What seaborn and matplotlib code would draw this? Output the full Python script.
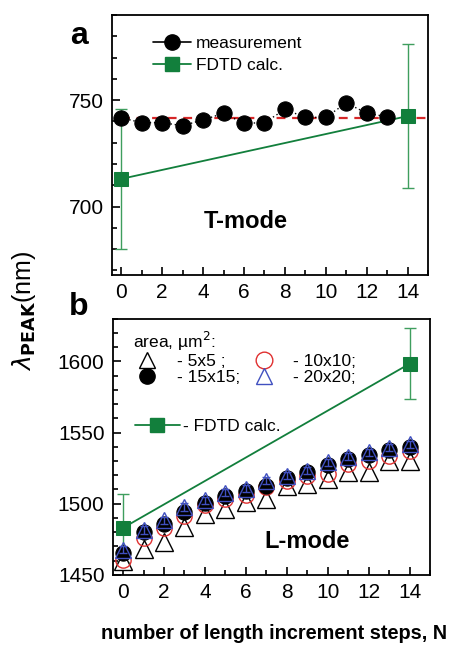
import numpy as np
import pandas as pd
import matplotlib
matplotlib.use("Agg")
import matplotlib.pyplot as plt
import seaborn as sns
from matplotlib.lines import Line2D
from matplotlib.ticker import MultipleLocator

sns.set_style("ticks")
plt.rcParams['font.family'] = ['Liberation Sans', 'DejaVu Sans']
plt.rcParams['mathtext.fontset'] = 'dejavusans'
plt.rcParams['text.color'] = 'black'
plt.rcParams['xtick.color'] = 'black'
plt.rcParams['ytick.color'] = 'black'
plt.rcParams['axes.edgecolor'] = 'black'

# ---- data ----
steps = np.arange(15)

# panel a: T-mode
t_meas = [741.7, 739.4, 739.4, 738.0, 740.7, 743.8, 739.1, 739.4, 745.6,
          741.9, 741.9, 748.7, 743.8, 742.2]
t_meas_err = [2.5] * 14
t_fit = 741.4
fdtd_x = [0, 14]
t_fdtd = [713, 742.5]
t_fdtd_err = [33, 34]

# panel b: L-mode, one series per pad area
l_5x5 = [1459.5, 1468.3, 1473.4, 1483.8, 1493.0, 1496.5, 1501.0, 1503.5,
         1512.7, 1513.9, 1517.4, 1522.4, 1522.4, 1530.0, 1530.0]
l_10x10 = [1460.6, 1475.7, 1482.6, 1491.4, 1498.8, 1503.5, 1505.8, 1511.6,
           1516.2, 1519.7, 1520.8, 1527.8, 1530.0, 1533.5, 1537.0]
l_15x15 = [1465.3, 1480.3, 1485.4, 1494.2, 1500.7, 1505.3, 1509.2, 1512.7,
           1517.8, 1522.4, 1527.0, 1531.7, 1534.0, 1537.7, 1540.0]
l_20x20 = [1467.6, 1481.5, 1488.4, 1497.7, 1502.3, 1507.6, 1510.4, 1516.2,
           1519.7, 1523.1, 1529.0, 1533.1, 1536.3, 1539.4, 1541.7]
l_err = [2.5] * 15
l_fdtd = [1483, 1598.4]
l_fdtd_err = [24, 25]

green = '#127f3c'
green_light = '#3f9e5e'

df_t = pd.DataFrame({'N': steps[:14], 'lam': t_meas})
df_tf = pd.DataFrame({'N': fdtd_x, 'lam': t_fdtd})
df_l = pd.DataFrame({'N': steps, '5x5': l_5x5, '10x10': l_10x10,
                     '15x15': l_15x15, '20x20': l_20x20})
df_lf = pd.DataFrame({'N': fdtd_x, 'lam': l_fdtd})

fig = plt.figure(figsize=(4.57, 6.48), dpi=100)
ax1 = fig.add_axes([0.245, 0.576, 0.692, 0.401])
ax2 = fig.add_axes([0.247, 0.113, 0.694, 0.395])

# ---- panel a ----
ax1.hlines(t_fit, 0, 15, colors='#d62728', linestyles=(0, (4, 3)), lw=1.6, zorder=2)
ax1.errorbar(fdtd_x, t_fdtd, yerr=t_fdtd_err, fmt='none', ecolor=green_light,
             elinewidth=1.0, capsize=4, capthick=1.0, zorder=1)
sns.lineplot(data=df_tf, x='N', y='lam', ax=ax1, color=green, lw=1.3,
             marker='s', markersize=10, markeredgecolor=green, zorder=3)
ax1.errorbar(df_t['N'], df_t['lam'], yerr=t_meas_err, fmt='none', ecolor='#333333',
             elinewidth=1.0, capsize=3, zorder=3)
sns.lineplot(data=df_t, x='N', y='lam', ax=ax1, color='black', lw=1.0,
             linestyle=(0, (1, 2)), marker='o', markersize=11,
             markeredgecolor='black', zorder=4)

h1 = [Line2D([], [], color='black', marker='o', ms=11, lw=1.2),
      Line2D([], [], color=green, marker='s', ms=10, lw=1.3)]
ax1.legend(h1, ['measurement', 'FDTD calc.'], loc='upper left',
           bbox_to_anchor=(0.08, 0.98), frameon=False, fontsize=12.5,
           handlelength=2.2, handletextpad=0.3, labelspacing=0.4)
ax1.text(6.1, 693, 'T-mode', fontsize=17, fontweight='bold', ha='center', va='center')

ax1.set_xlim(-0.45, 15)
ax1.set_ylim(668, 790)
ax1.set_yticks([700, 750])
ax1.yaxis.set_minor_locator(MultipleLocator(10))

# ---- panel b ----
ax2.errorbar(fdtd_x, l_fdtd, yerr=l_fdtd_err, fmt='none', ecolor=green_light,
             elinewidth=1.0, capsize=4, capthick=1.0, zorder=1)
sns.lineplot(data=df_lf, x='N', y='lam', ax=ax2, color=green, lw=1.3,
             marker='s', markersize=10, markeredgecolor=green, zorder=2)
sns.lineplot(data=df_l, x='N', y='5x5', ax=ax2, color='black', linestyle='',
             marker='^', markersize=13, markerfacecolor='white',
             markeredgecolor='black', markeredgewidth=1.0, zorder=3)
sns.lineplot(data=df_l, x='N', y='10x10', ax=ax2, color='#e03030', linestyle='',
             marker='o', markersize=11, markerfacecolor='none',
             markeredgecolor='#e03030', markeredgewidth=1.0, zorder=4)
ax2.errorbar(df_l['N'], df_l['15x15'], yerr=l_err, fmt='none', ecolor='black',
             elinewidth=1.0, capsize=3, zorder=4)
sns.lineplot(data=df_l, x='N', y='15x15', ax=ax2, color='black', linestyle='',
             marker='o', markersize=11, markeredgecolor='black', zorder=5)
ax2.errorbar(df_l['N'], df_l['20x20'], yerr=l_err, fmt='none', ecolor='#4050c0',
             elinewidth=1.0, capsize=3, zorder=5)
sns.lineplot(data=df_l, x='N', y='20x20', ax=ax2, color='#4050c0', linestyle='',
             marker='^', markersize=12, markerfacecolor='none',
             markeredgecolor='#4050c0', markeredgewidth=1.0, zorder=6)

h2 = [Line2D([], [], ls='', marker='^', ms=12, mfc='white', mec='black'),
      Line2D([], [], ls='', marker='o', ms=11, mfc='black', mec='black'),
      Line2D([], [], ls='', marker='o', ms=12, mfc='none', mec='#e03030'),
      Line2D([], [], ls='', marker='^', ms=12, mfc='none', mec='#4050c0')]
leg2 = ax2.legend(h2, ['- 5x5 ;', '- 15x15;', '- 10x10;', '- 20x20;'], ncol=2,
                  loc='upper left', bbox_to_anchor=(0.02, 1.01), frameon=False,
                  fontsize=12.5, title='area, µm$^2$:', title_fontsize=12.5,
                  alignment='left', handlelength=1.6, handletextpad=0.9,
                  columnspacing=0.6, labelspacing=0.05, borderpad=0.3)
ax2.add_artist(leg2)
h3 = [Line2D([], [], color=green, marker='s', ms=10, lw=1.3)]
ax2.legend(h3, ['- FDTD calc.'], loc='upper left', bbox_to_anchor=(0.02, 0.67),
           frameon=False, fontsize=12.5, handlelength=2.6, handletextpad=0.2)
ax2.text(9.0, 1473.6, 'L-mode', fontsize=17, fontweight='bold', ha='center', va='center')

ax2.set_xlim(-0.5, 15)
ax2.set_ylim(1450, 1630)
ax2.set_yticks([1450, 1500, 1550, 1600])
ax2.yaxis.set_minor_locator(MultipleLocator(10))

for ax in (ax1, ax2):
    ax.set_xticks(range(0, 15, 2))
    ax.xaxis.set_minor_locator(MultipleLocator(1))
    ax.tick_params(which='both', direction='in', top=False, right=False,
                   labelsize=15, width=1.2)
    ax.tick_params(which='major', length=6, pad=6)
    ax.tick_params(which='minor', length=3.5)
    ax.set_xlabel('')
    ax.set_ylabel('')
    for s in ax.spines.values():
        s.set_visible(True)
        s.set_linewidth(1.3)

fig.text(0.173, 0.945, 'a', fontsize=23, fontweight='bold', ha='center', va='center')
fig.text(0.172, 0.527, 'b', fontsize=23, fontweight='bold', ha='center', va='center')
fig.text(0.052, 0.52, r'$\lambda_{\mathbf{PEAK}}$(nm)', fontsize=18, rotation=90,
         ha='center', va='center')
fig.text(0.600, 0.023, 'number of length increment steps, N', fontsize=14.3,
         fontweight='bold', ha='center', va='center')

fig.savefig('out.png', dpi=100)
